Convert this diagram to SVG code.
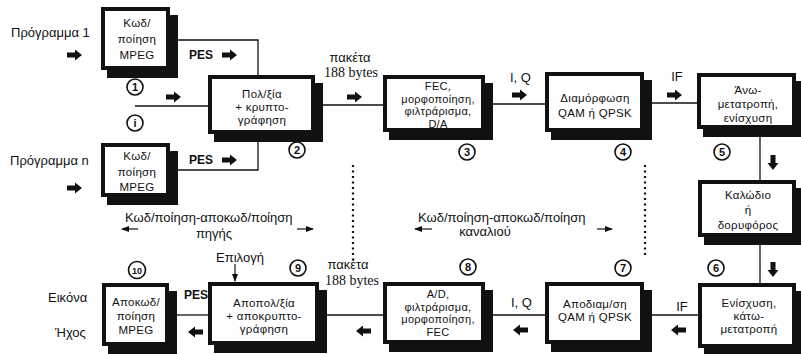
<svg xmlns="http://www.w3.org/2000/svg" width="801" height="354" viewBox="0 0 801 354">
<style>
text{font-family:"Liberation Sans","DejaVu Sans",sans-serif;fill:#111;}
.bt{font-size:11.5px;text-anchor:middle;letter-spacing:0.3px;}
.b4{font-size:11px;text-anchor:middle;letter-spacing:0.3px;}
.lb{font-size:13px;}
.pes{font-size:12px;font-weight:bold;}
.sf{font-family:"Liberation Serif","DejaVu Serif",serif;font-size:14px;}
.cn{font-size:11px;font-weight:bold;text-anchor:middle;}
.fr{fill:#fff;stroke:#111;stroke-width:4;}
.sh{fill:#111;}
.ln{stroke:#111;stroke-width:1.3;fill:none;}
.dot{stroke:#111;stroke-width:2.2;stroke-dasharray:2 3.5;fill:none;}
.ci{fill:#fff;stroke:#111;stroke-width:1.6;}
.thin{stroke:#111;stroke-width:1.2;fill:none;marker-end:url(#ah);}
</style>
<defs>
<path id="ar" d="M0,-2.5 H8 V-5.5 L15,0 L8,5.5 V2.5 H0 Z" fill="#111"/>
<marker id="ah" markerWidth="8" markerHeight="6" refX="7" refY="3" orient="auto" markerUnits="userSpaceOnUse">
<path d="M0,0 L8,3 L0,6 Z" fill="#111"/>
</marker>
</defs>

<g id="connectors">
<path class="ln" d="M178,40 H258 V75"/>
<path class="ln" d="M178,170 H258 V142"/>
<path class="ln" d="M135,106 H208"/>
<path class="ln" d="M323,105 H383"/>
<path class="ln" d="M493,104 H545"/>
<path class="ln" d="M652,103 H697"/>
<path class="ln" d="M760,137 V180"/>
<path class="ln" d="M760,245 V283"/>
<path class="ln" d="M652,315 H698"/>
<path class="ln" d="M493,315 H545"/>
<path class="ln" d="M327,315 H383"/>
<path class="ln" d="M177,315 H208"/>
<path class="dot" d="M353,165 V262"/>
<path class="dot" d="M645,165 V258"/>
<use href="#ar" transform="translate(67,55)"/>
<use href="#ar" transform="translate(67,188)"/>
<use href="#ar" transform="translate(222,55)"/>
<use href="#ar" transform="translate(222,160)"/>
<use href="#ar" transform="translate(166,97)"/>
<use href="#ar" transform="translate(347,97)"/>
<use href="#ar" transform="translate(512,95)"/>
<use href="#ar" transform="translate(667,95)"/>
<use href="#ar" transform="translate(773,155) rotate(90)"/>
<use href="#ar" transform="translate(773,262) rotate(90)"/>
<use href="#ar" transform="translate(686,330) rotate(180)"/>
<use href="#ar" transform="translate(528,330) rotate(180)"/>
<use href="#ar" transform="translate(371,331) rotate(180)"/>
<use href="#ar" transform="translate(203,332) rotate(180)"/>
<path class="thin" d="M138,229 H122"/>
<path class="thin" d="M297,229 H313"/>
<path class="thin" d="M432,229 H415"/>
<path class="thin" d="M597,229 H612"/>
<path class="thin" d="M235,264 V281"/>
</g>

<g id="enc1">
<rect class="sh" x="107" y="15" width="71" height="63"/>
<rect class="fr" x="103" y="9" width="65" height="59"/>
<text class="bt" x="137" y="27">Κωδ/</text>
<text class="bt" x="137" y="43">ποίηση</text>
<text class="bt" x="137" y="59">MPEG</text>
</g>
<g id="encn">
<rect class="sh" x="107" y="151" width="71" height="54"/>
<rect class="fr" x="103" y="145" width="65" height="50"/>
<text class="bt" x="137" y="160">Κωδ/</text>
<text class="bt" x="137" y="176">ποίηση</text>
<text class="bt" x="137" y="191">MPEG</text>
</g>
<g id="mux">
<rect class="sh" x="214" y="83" width="109" height="59"/>
<rect class="fr" x="210" y="77" width="103" height="55"/>
<text class="bt" x="262" y="98">Πολ/ξία</text>
<text class="bt" x="262" y="111">+ κρυπτο-</text>
<text class="bt" x="262" y="124">γράφηση</text>
</g>
<g id="fec">
<rect class="sh" x="389" y="83" width="104" height="57"/>
<rect class="fr" x="385" y="77" width="98" height="53"/>
<text class="b4" x="438" y="90">FEC,</text>
<text class="b4" x="438" y="102.5">μορφοποίηση,</text>
<text class="b4" x="438" y="115">φιλτράρισμα,</text>
<text class="b4" x="438" y="127.5">D/A</text>
</g>
<g id="mod">
<rect class="sh" x="551" y="80" width="101" height="60"/>
<rect class="fr" x="547" y="74" width="95" height="56"/>
<text class="bt" x="595" y="102">Διαμόρφωση</text>
<text class="bt" x="595" y="117">QAM ή QPSK</text>
</g>
<g id="upconv">
<rect class="sh" x="703" y="81" width="101" height="56"/>
<rect class="fr" x="699" y="75" width="95" height="52"/>
<text class="bt" x="748" y="94">Άνω-</text>
<text class="bt" x="748" y="108">μετατροπή,</text>
<text class="bt" x="748" y="122">ενίσχυση</text>
</g>
<g id="channel">
<rect class="sh" x="704" y="188" width="100" height="57"/>
<rect class="fr" x="700" y="182" width="94" height="53"/>
<text class="bt" x="748" y="199">Καλώδιο</text>
<text class="bt" x="748" y="214">ή</text>
<text class="bt" x="748" y="229">δορυφόρος</text>
</g>
<g id="downconv">
<rect class="sh" x="704" y="291" width="100" height="65"/>
<rect class="fr" x="700" y="285" width="94" height="61"/>
<text class="bt" x="749" y="307">Ενίσχυση,</text>
<text class="bt" x="749" y="320">κάτω-</text>
<text class="bt" x="749" y="333">μετατροπή</text>
</g>
<g id="demod">
<rect class="sh" x="551" y="290" width="101" height="62"/>
<rect class="fr" x="547" y="284" width="95" height="58"/>
<text class="bt" x="595" y="308">Αποδιαμ/ση</text>
<text class="bt" x="595" y="321">QAM ή QPSK</text>
</g>
<g id="adc">
<rect class="sh" x="389" y="290" width="104" height="62"/>
<rect class="fr" x="385" y="284" width="98" height="58"/>
<text class="b4" x="438" y="298">A/D,</text>
<text class="b4" x="438" y="310.5">φιλτράρισμα,</text>
<text class="b4" x="438" y="323">μορφοποίηση,</text>
<text class="b4" x="438" y="335.5">FEC</text>
</g>
<g id="demux">
<rect class="sh" x="214" y="290" width="113" height="63"/>
<rect class="fr" x="210" y="284" width="107" height="59"/>
<text class="bt" x="264" y="307">Αποπολ/ξία</text>
<text class="bt" x="264" y="320">+ αποκρυπτο-</text>
<text class="bt" x="264" y="333">γράφηση</text>
</g>
<g id="dec">
<rect class="sh" x="108" y="291" width="69" height="63"/>
<rect class="fr" x="104" y="285" width="63" height="59"/>
<text class="bt" x="136" y="306">Αποκωδ/</text>
<text class="bt" x="136" y="320">ποίηση</text>
<text class="bt" x="136" y="334">MPEG</text>
</g>

<g id="markers">
<circle class="ci" cx="135" cy="87" r="8"/><text class="cn" x="135" y="91">1</text>
<circle class="ci" cx="135" cy="123" r="8"/><text class="cn" x="135" y="127">i</text>
<circle class="ci" cx="297" cy="150" r="8"/><text class="cn" x="297" y="154">2</text>
<circle class="ci" cx="467" cy="152" r="8"/><text class="cn" x="467" y="156">3</text>
<circle class="ci" cx="623" cy="152" r="8"/><text class="cn" x="623" y="156">4</text>
<circle class="ci" cx="722" cy="152" r="8"/><text class="cn" x="722" y="156">5</text>
<circle class="ci" cx="716" cy="268" r="8"/><text class="cn" x="716" y="272">6</text>
<circle class="ci" cx="623" cy="268" r="8"/><text class="cn" x="623" y="272">7</text>
<circle class="ci" cx="468" cy="267" r="8"/><text class="cn" x="468" y="271">8</text>
<circle class="ci" cx="298" cy="268" r="8"/><text class="cn" x="298" y="272">9</text>
<circle class="ci" cx="137" cy="270" r="8.5"/><text class="cn" x="137" y="274" style="font-size:9px">10</text>
</g>

<g id="labels">
<text class="lb" x="11" y="37">Πρόγραμμα 1</text>
<text class="lb" x="10" y="165">Πρόγραμμα n</text>
<text class="pes" x="189" y="59">PES</text>
<text class="pes" x="189" y="164">PES</text>
<text class="pes" x="184" y="299">PES</text>
<text class="lb" x="350" y="62" text-anchor="middle">πακέτα</text>
<text class="sf" x="351" y="77" text-anchor="middle">188 bytes</text>
<text class="lb" x="348" y="269" text-anchor="middle">πακέτα</text>
<text class="sf" x="352" y="285" text-anchor="middle">188 bytes</text>
<text class="lb" x="510" y="82">I, Q</text>
<text class="lb" x="511" y="307">I, Q</text>
<text class="lb" x="677" y="81" text-anchor="middle">IF</text>
<text class="lb" x="682" y="311" text-anchor="middle">IF</text>
<text class="lb" x="125" y="222">Κωδ/ποίηση-αποκωδ/ποίηση</text>
<text class="lb" x="214" y="238" text-anchor="middle">πηγής</text>
<text class="lb" x="418" y="222">Κωδ/ποίηση-αποκωδ/ποίηση</text>
<text class="lb" x="485" y="236" text-anchor="middle">καναλιού</text>
<text class="lb" x="240" y="262" text-anchor="middle">Επιλογή</text>
<text class="lb" x="48" y="302">Εικόνα</text>
<text class="lb" x="55" y="337">Ήχος</text>
</g>
</svg>
